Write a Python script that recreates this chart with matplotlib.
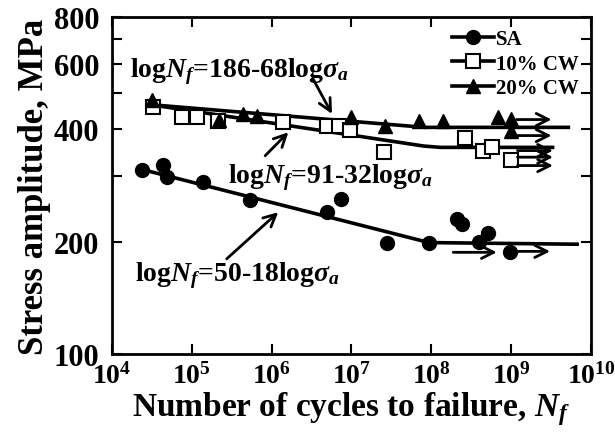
import numpy as np
import matplotlib
matplotlib.use('Agg')
import matplotlib.pyplot as plt
from matplotlib.lines import Line2D
from matplotlib.ticker import FixedLocator, NullFormatter, LogLocator

plt.rcParams['font.family'] = 'Liberation Serif'
plt.rcParams['font.weight'] = 'bold'
plt.rcParams['mathtext.fontset'] = 'custom'
plt.rcParams['mathtext.rm'] = 'Liberation Serif:bold'
plt.rcParams['mathtext.it'] = 'Liberation Serif:italic:bold'
plt.rcParams['mathtext.bf'] = 'Liberation Serif:bold'

# measured points (cycles, MPa)
sa_N = [2.35e4, 4.3e4, 4.9e4, 1.37e5, 5.4e5, 4.98e6, 7.3e6, 2.76e7, 9.4e7,
        2.08e8, 2.4e8, 3.9e8, 5.2e8, 9.7e8]
sa_S = [311, 321, 299, 290, 259, 240, 261, 199, 199, 230, 223, 200, 211, 188]

cw10_N = [3.3e4, 7.6e4, 1.15e5, 2.15e5, 1.37e6, 4.9e6, 7.0e6, 9.6e6, 2.55e7,
          2.64e8, 4.5e8, 5.7e8, 9.9e8]
cw10_S = [458, 431, 431, 422, 418, 409, 409, 398, 348, 379, 351, 359, 332]

cw20_N = [3.2e4, 2.2e5, 4.4e5, 6.5e5, 1.0e7, 2.63e7, 7.1e7, 1.39e8, 6.9e8,
          9.9e8, 9.9e8]
cw20_S = [478, 425, 440, 435, 431, 409, 420, 422, 431, 427, 397]

# fitted curves
sa_fit_N = [2.44e4, 9.35e7, 6.7e9]
sa_fit_S = [312, 199, 197]
cw10_fit_N = [3.0e4, 8.0e7, 1.3e8, 3.3e9]
cw10_fit_S = [466, 361, 358, 358]
cw20_fit_N = [3.0e4, 8.3e7, 5.2e9]
cw20_fit_S = [466, 405, 405]

# run-out arrows: (start N, end N, stress)
runouts = [(1.88e8, 6.6e8, 187.4), (9.7e8, 3.07e9, 188.5),
           (1.17e9, 3.2e9, 425), (1.17e9, 3.2e9, 385),
           (1.2e9, 3.34e9, 351), (1.2e9, 3.34e9, 337), (1.2e9, 3.34e9, 320)]

fig = plt.figure(figsize=(6.15, 4.39), dpi=100)
ax = fig.add_axes([0.182, 0.191, 0.779, 0.768])

ax.plot(sa_fit_N, sa_fit_S, color='k', lw=2.6)
ax.plot(cw10_fit_N, cw10_fit_S, color='k', lw=2.6)
ax.plot(cw20_fit_N, cw20_fit_S, color='k', lw=2.6)

ax.plot(sa_N, sa_S, 'o', color='k', ms=10, ls='none')
ax.plot(cw10_N, cw10_S, 's', mfc='white', mec='k', mew=1.5, ms=10, ls='none')
ax.plot(cw20_N, cw20_S, '^', color='k', ms=10, ls='none')

for n0, n1, s in runouts:
    ax.annotate('', xy=(n1, s), xytext=(n0, s),
                arrowprops=dict(arrowstyle='->', lw=2, color='k',
                                mutation_scale=22, shrinkA=0, shrinkB=0))

def label(text, tx, ty, a0, a1):
    ax.text(tx, ty, text, fontsize=20, fontweight='bold', va='center', ha='left')
    ax.annotate('', xy=a1, xytext=a0,
                arrowprops=dict(arrowstyle='->', lw=2, color='k',
                                mutation_scale=22, shrinkA=0, shrinkB=0))

label(r'log$N_f$=186-68log$\sigma_a$', 1.68e4, 574, (3.3e6, 546), (5.7e6, 440))
label(r'log$N_f$=91-32log$\sigma_a$', 2.84e5, 298, (8.3e5, 340), (1.62e6, 393))
label(r'log$N_f$=50-18log$\sigma_a$', 1.94e4, 163, (2.74e5, 180), (1.21e6, 240))

ax.set_xscale('log')
ax.set_yscale('log')
ax.set_xlim(1e4, 1e10)
ax.set_ylim(100, 800)

xt = [1e4, 1e5, 1e6, 1e7, 1e8, 1e9, 1e10]
ax.set_xticks(xt)
ax.set_xticklabels([r'$\mathbf{10^{%d}}$' % int(np.log10(v)) for v in xt])
ax.xaxis.set_minor_locator(LogLocator(base=10, subs=np.arange(2, 10)))
ax.xaxis.set_minor_formatter(NullFormatter())

yt = [100, 200, 300, 400, 500, 600, 700, 800]
ax.yaxis.set_major_locator(FixedLocator(yt))
ax.set_yticklabels(['100', '200', '', '400', '', '600', '', '800'])
ax.yaxis.set_minor_locator(FixedLocator([]))

ax.tick_params(which='both', direction='in', top=True, right=True, width=1.5)
ax.tick_params(which='major', length=7)
ax.tick_params(which='minor', length=4)
ax.tick_params(axis='y', labelsize=22, pad=9)
ax.tick_params(axis='x', labelsize=20, pad=6)
for sp in ax.spines.values():
    sp.set_linewidth(2)

ax.set_xlabel(r'Number of cycles to failure, $N_f$', fontsize=24, fontweight='bold',
              labelpad=0)
ax.set_ylabel('Stress amplitude, MPa', fontsize=25, fontweight='bold', labelpad=2)

handles = [
    Line2D([], [], color='k', lw=2.6, marker='o', ms=10),
    Line2D([], [], color='k', lw=2.6, marker='s', ms=10, mfc='white', mew=1.5),
    Line2D([], [], color='k', lw=2.6, marker='^', ms=10),
]
ax.legend(handles, ['SA', '10% CW', '20% CW'], loc='upper right', frameon=False,
          prop=dict(family='Liberation Serif', weight='bold', size=15),
          handlelength=2.0, handletextpad=0.1, labelspacing=0.2,
          borderaxespad=0.2)

fig.savefig('out.png', dpi=100)
